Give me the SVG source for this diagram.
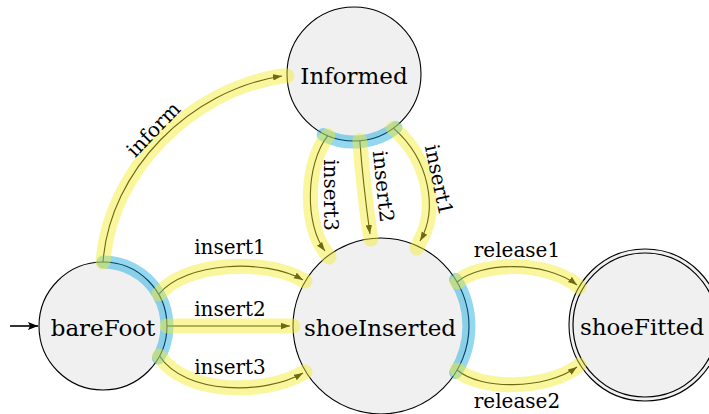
<svg xmlns="http://www.w3.org/2000/svg" width="709" height="414" viewBox="0 0 709 414">
<style>
.node{fill:#f0f0f0;stroke:#000;stroke-width:1.1}
.ring{fill:none;stroke:#000;stroke-width:1.2}
.nt{font-family:"DejaVu Serif","Liberation Serif",serif;font-size:23px;fill:#000;text-anchor:middle}
.lt{font-family:"DejaVu Serif","Liberation Serif",serif;font-size:20px;fill:#000;text-anchor:middle}
.edge{fill:none;stroke:#000;stroke-width:1.1;marker-end:url(#arr)}
.hl{fill:none;stroke:rgb(245,235,40);stroke-opacity:0.45;stroke-width:15;stroke-linecap:round}
.bl{fill:none;stroke:rgb(0,160,220);stroke-opacity:0.42;stroke-width:13;stroke-linecap:round}
</style>
<defs>
<marker id="arr" markerUnits="userSpaceOnUse" markerWidth="11" markerHeight="8" refX="9" refY="3.2" orient="auto">
<path d="M0,0 L9,3.2 L0,6.4 z" fill="#000"/>
</marker>
<marker id="arr0" markerUnits="userSpaceOnUse" markerWidth="12" markerHeight="10" refX="10" refY="4" orient="auto">
<path d="M0,0 L10,4 L0,8 L2,4 z" fill="#000"/>
</marker>
</defs>

<g id="bareFoot">
<circle class="node" cx="103" cy="326" r="64"/>
<text class="nt" x="103" y="336">bareFoot</text>
</g>
<g id="Informed">
<circle class="node" cx="354" cy="74" r="67"/>
<text class="nt" x="354" y="83.5">Informed</text>
</g>
<g id="shoeInserted">
<circle class="node" cx="381" cy="326" r="88"/>
<text class="nt" x="380" y="336">shoeInserted</text>
</g>
<g id="shoeFitted">
<circle class="node" cx="645" cy="325" r="76"/>
<circle class="ring" cx="645" cy="325" r="72"/>
<text class="nt" x="642" y="335">shoeFitted</text>
</g>

<g id="connectors">
<path d="M10,326 L38,326" fill="none" stroke="#000" stroke-width="1.6" marker-end="url(#arr0)"/>
<path class="edge" d="M103,262 C110,170 190,90 282,76"/>
<path class="edge" d="M159,294 C185,262 265,258 303,280"/>
<path class="edge" d="M167,326 L290,326"/>
<path class="edge" d="M159.5,356 C185,395 265,395 303,373"/>
<path class="edge" d="M327.8,135.7 C305,165 305,225 325,251"/>
<path class="edge" d="M359.8,140.7 C362,170 366,205 370,234"/>
<path class="edge" d="M393.4,128.2 C430,160 438,210 420,241"/>
<path class="edge" d="M457.2,282 C480,262 545,260 577,285"/>
<path class="edge" d="M457.2,370 C480,390 545,390 577,367"/>

<path class="bl" d="M103,262 A64,64 0 0 1 158.4,358"/>
<path class="bl" d="M395.9,127.6 A68,68 0 0 1 323.1,134.6"/>
<path class="bl" d="M455.6,279.4 A88,88 0 0 1 455.6,372.6"/>

<path class="hl" d="M103,262 C110,170 190,90 282,76 L287,76"/>
<path class="hl" d="M159,294 C185,262 265,258 303,280 L305,281"/>
<path class="hl" d="M167,326 L293,326"/>
<path class="hl" d="M159.5,356 C185,395 265,395 303,373 L305,372"/>
<path class="hl" d="M327.8,135.7 C305,165 305,225 325,251 L329,257"/>
<path class="hl" d="M359.8,140.7 C362,170 366,205 370,234 L371,239"/>
<path class="hl" d="M393.4,128.2 C430,160 438,210 420,241 L417,248"/>
<path class="hl" d="M457.2,282 C480,262 545,260 577,285 L579,287"/>
<path class="hl" d="M457.2,370 C480,390 545,390 577,367 L579,365"/>

<text class="lt" transform="translate(154,130) rotate(-46)" y="6">inform</text>
<text class="lt" x="230" y="254">insert1</text>
<text class="lt" x="230" y="316">insert2</text>
<text class="lt" x="230" y="374">insert3</text>
<text class="lt" transform="translate(330,195) rotate(90)" y="6">insert3</text>
<text class="lt" transform="translate(382.5,186.5) rotate(84)" y="6">insert2</text>
<text class="lt" transform="translate(438,180) rotate(78)" y="6">insert1</text>
<text class="lt" x="517" y="257">release1</text>
<text class="lt" x="517" y="408">release2</text>
</g>
</svg>
